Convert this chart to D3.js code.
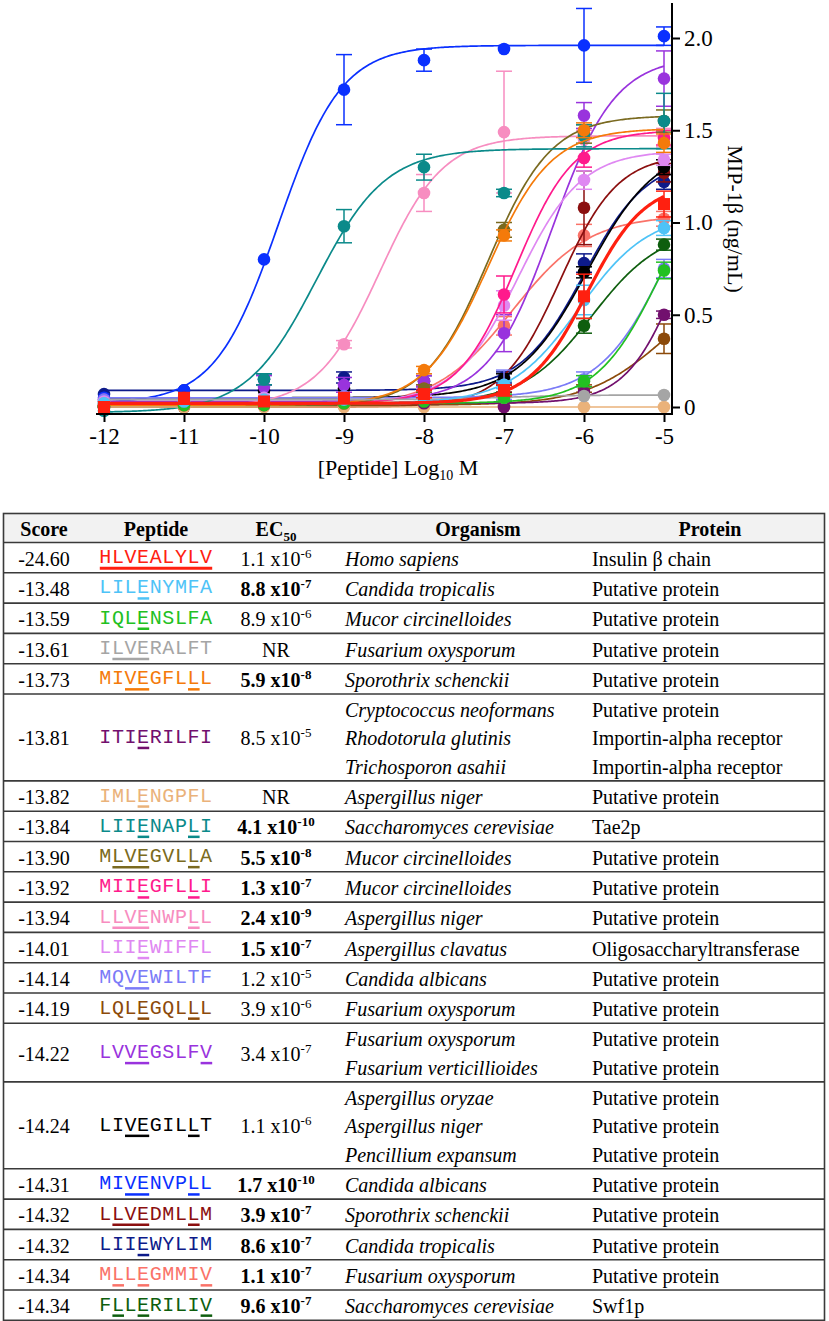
<!DOCTYPE html>
<html>
<head>
<meta charset="utf-8">
<script src="https://cdn.jsdelivr.net/npm/d3@7"></script>
<style>
  body { margin: 0; background: #fff; }
</style>
</head>
<body>
<div id="chart"></div>
<script>
// ---- chart data ----
const doses = [-12, -11, -10, -9, -8, -7, -6, -5];
const xTicks = [-12, -11, -10, -9, -8, -7, -6, -5];
const yTicks = [0, 0.5, 1.0, 1.5, 2.0];

const colors = ["#ff2010", "#4ec3f7", "#22c022", "#a5a5a5", "#f47a0a", "#72106e", "#eab27a",
  "#0b8a8a", "#7a6a20", "#ff1a8c", "#f78dc0", "#df88f2", "#7b7bf7", "#8c4a0a", "#9933dd",
  "#000000", "#0a30ff", "#8b0f0f", "#0d1a8a", "#fa7268", "#0e5e0e"];

// mean MIP-1b (ng/mL) at each dose, one row per peptide (table order)
const responses = [
  [0.00, 0.05, 0.03, 0.05, 0.07, 0.09, 0.60, 1.10],
  [0.02, 0.03, 0.04, 0.04, 0.05, 0.12, 0.58, 0.97],
  [0.00, 0.01, 0.01, 0.02, 0.03, 0.05, 0.14, 0.74],
  [0.02, 0.03, 0.03, 0.03, 0.04, 0.05, 0.06, 0.065],
  [0.01, 0.01, 0.02, 0.02, 0.20, 0.93, 1.50, 1.43],
  [0.00, 0.01, 0.01, 0.02, 0.02, 0.00, 0.08, 0.50],
  [0.00, 0.00, 0.00, 0.00, 0.00, 0.00, 0.00, 0.00],
  [-0.02, 0.01, 0.15, 0.98, 1.30, 1.16, 1.47, 1.55],
  [0.00, 0.01, 0.01, 0.02, 0.10, 0.96, 1.48, 1.55],
  [0.01, 0.02, 0.03, 0.03, 0.10, 0.61, 1.35, 1.46],
  [0.01, 0.02, 0.04, 0.34, 1.16, 1.49, 1.45, 1.46],
  [0.03, 0.04, 0.05, 0.05, 0.08, 0.55, 1.23, 1.34],
  [0.04, 0.04, 0.05, 0.06, 0.06, 0.12, 0.15, 0.75],
  [0.00, 0.00, 0.01, 0.01, 0.02, 0.03, 0.10, 0.37],
  [0.04, 0.05, 0.11, 0.12, 0.14, 0.40, 1.58, 1.78],
  [0.03, 0.05, 0.09, 0.10, 0.10, 0.15, 0.73, 1.30],
  [0.05, 0.09, 0.80, 1.72, 1.88, 1.94, 1.96, 2.01],
  [0.00, 0.00, 0.01, 0.02, 0.03, 0.10, 1.08, 1.27],
  [0.07, 0.09, 0.15, 0.16, 0.14, 0.16, 0.78, 1.22],
  [0.01, 0.02, 0.03, 0.03, 0.05, 0.44, 0.93, 1.02],
  [0.00, 0.01, 0.01, 0.01, 0.02, 0.06, 0.44, 0.88]
];

const errors = [
  [0.01, 0.01, 0.01, 0.01, 0.02, 0.03, 0.12, 0.07],
  [0.01, 0.01, 0.01, 0.01, 0.01, 0.02, 0.08, 0.04],
  [0.01, 0.01, 0.01, 0.01, 0.01, 0.02, 0.03, 0.045],
  [0.01, 0.01, 0.01, 0.01, 0.01, 0.01, 0.01, 0.01],
  [0.01, 0.01, 0.01, 0.01, 0.02, 0.03, 0.04, 0.05],
  [0.01, 0.01, 0.01, 0.01, 0.01, 0.01, 0.01, 0.02],
  [0.01, 0.01, 0.01, 0.01, 0.01, 0.01, 0.01, 0.01],
  [0.01, 0.01, 0.03, 0.09, 0.07, 0.02, 0.06, 0.15],
  [0.01, 0.01, 0.01, 0.01, 0.02, 0.04, 0.05, 0.06],
  [0.01, 0.01, 0.01, 0.01, 0.02, 0.10, 0.05, 0.04],
  [0.01, 0.01, 0.01, 0.02, 0.10, 0.33, 0.05, 0.05],
  [0.01, 0.01, 0.01, 0.01, 0.02, 0.08, 0.05, 0.03],
  [0.01, 0.01, 0.01, 0.01, 0.01, 0.08, 0.04, 0.05],
  [0.01, 0.01, 0.01, 0.01, 0.01, 0.01, 0.02, 0.08],
  [0.01, 0.01, 0.06, 0.04, 0.03, 0.10, 0.07, 0.15],
  [0.01, 0.01, 0.01, 0.01, 0.01, 0.03, 0.03, 0.04],
  [0.01, 0.01, 0.01, 0.19, 0.06, 0.01, 0.20, 0.05],
  [0.01, 0.01, 0.01, 0.01, 0.01, 0.02, 0.20, 0.05],
  [0.01, 0.01, 0.03, 0.03, 0.03, 0.03, 0.05, 0.04],
  [0.01, 0.01, 0.01, 0.01, 0.01, 0.05, 0.06, 0.04],
  [0.01, 0.01, 0.01, 0.01, 0.01, 0.02, 0.04, 0.03]
];

// fitted sigmoid parameters per peptide
const fitBottom = [0.02, 0.02, 0.02, 0.04, 0.01, 0.02, 0.0, -0.03, 0.0, 0.02, 0.0, 0.02, 0.05, 0.01, 0.03, 0.05, 0.02, 0.0, 0.09, 0.0, 0.02];
const fitTop = [1.22, 1.05, 1.40, 0.065, 1.51, 1.40, 0.0, 1.40, 1.58, 1.50, 1.47, 1.39, 1.60, 0.72, 1.90, 1.42, 1.96, 1.37, 1.35, 1.04, 0.97];
const fitLogEC = [-5.96, -6.06, -5.05, -7.0, -7.20, -4.80, -7.0, -9.35, -7.20, -6.85, -8.55, -6.82, -4.92, -5.0, -6.40, -5.96, -9.82, -6.30, -6.0, -6.90, -5.90];
const fitHill = [1.2, 1.0, 1.1, 1.0, 1.1, 1.3, 1.0, 1.0, 1.1, 1.2, 1.1, 1.1, 1.0, 0.9, 1.1, 1.0, 1.1, 1.2, 1.1, 0.9, 1.0];

// ---- table data ----
const scores = ["-24.60", "-13.48", "-13.59", "-13.61", "-13.73", "-13.81", "-13.82", "-13.84", "-13.90", "-13.92",
  "-13.94", "-14.01", "-14.14", "-14.19", "-14.22", "-14.24", "-14.31", "-14.32", "-14.32", "-14.34", "-14.34"];
const peptides = ["HLVEALYLV", "LILENYMFA", "IQLENSLFA", "ILVERALFT", "MIVEGFLLL", "ITIERILFI", "IMLENGPFL",
  "LIIENAPLI", "MLVEGVLLA", "MIIEGFLLI", "LLVENWPLL", "LIIEWIFFL", "MQVEWILTF", "LQLEGQLLL", "LVVEGSLFV",
  "LIVEGILLT", "MIVENVPLL", "LLVEDMLLM", "LIIEWYLIM", "MLLEGMMIV", "FLLERILIV"];
const underlined = [[0, 1, 2, 3, 4, 5, 6, 7, 8], [3], [3], [1, 2, 3], [2, 3, 7], [3], [3], [3, 7], [1, 2, 3, 7],
  [3, 7], [1, 2, 3, 7], [3], [2, 3], [3, 7], [2, 3, 8], [2, 3, 7], [2, 3, 7], [1, 2, 3, 7], [3], [1, 3, 8], [1, 3, 8]];
const ec50Mantissa = ["1.1", "8.8", "8.9", null, "5.9", "8.5", null, "4.1", "5.5", "1.3", "2.4", "1.5", "1.2",
  "3.9", "3.4", "1.1", "1.7", "3.9", "8.6", "1.1", "9.6"];
const ec50Exponent = ["-6", "-7", "-6", null, "-8", "-5", null, "-10", "-8", "-7", "-9", "-7", "-5",
  "-6", "-7", "-6", "-10", "-7", "-7", "-7", "-7"];
const ec50Bold = [false, true, false, false, true, false, false, true, true, true, true, true, false,
  false, false, false, true, true, true, true, true];
const organisms = [
  ["Homo sapiens"], ["Candida tropicalis"], ["Mucor circinelloides"], ["Fusarium oxysporum"],
  ["Sporothrix schenckii"], ["Cryptococcus neoformans", "Rhodotorula glutinis", "Trichosporon asahii"],
  ["Aspergillus niger"], ["Saccharomyces cerevisiae"], ["Mucor circinelloides"], ["Mucor circinelloides"],
  ["Aspergillus niger"], ["Aspergillus clavatus"], ["Candida albicans"], ["Fusarium oxysporum"],
  ["Fusarium oxysporum", "Fusarium verticillioides"], ["Aspergillus oryzae", "Aspergillus niger", "Pencillium expansum"],
  ["Candida albicans"], ["Sporothrix schenckii"], ["Candida tropicalis"], ["Fusarium oxysporum"],
  ["Saccharomyces cerevisiae"]
];
const proteins = [
  ["Insulin β chain"], ["Putative protein"], ["Putative protein"], ["Putative protein"], ["Putative protein"],
  ["Putative protein", "Importin-alpha receptor", "Importin-alpha receptor"], ["Putative protein"], ["Tae2p"],
  ["Putative protein"], ["Putative protein"], ["Putative protein"], ["Oligosaccharyltransferase"],
  ["Putative protein"], ["Putative protein"], ["Putative protein", "Putative protein"],
  ["Putative protein", "Putative protein", "Putative protein"], ["Putative protein"], ["Putative protein"],
  ["Putative protein"], ["Putative protein"], ["Swf1p"]
];

// ---- layout ----
const svgWidth = 829;
const svgHeight = 1321;
const serif = '"Liberation Serif", "Times New Roman", serif';
const mono = '"Liberation Mono", "Courier New", monospace';

const svg = d3.select("#chart")
  .append("svg")
  .attr("width", svgWidth)
  .attr("height", svgHeight)
  .attr("font-family", serif);

const xScale = d3.scaleLinear().domain([-12, -5]).range([104, 664]);
const yScale = d3.scaleLinear().domain([0, 2]).range([407, 38]);
const axisY = 414;
const axisX = 672;

const line = d3.line()
  .x(d => xScale(d[0]))
  .y(d => yScale(d[1]));

function logistic(i, x) {
  return fitBottom[i] + (fitTop[i] - fitBottom[i]) / (1 + Math.pow(10, (fitLogEC[i] - x) * fitHill[i]));
}

const plot = svg.append("g");
// reverse table order, insulin (red) drawn last, on top
const order = d3.range(peptides.length - 1, 0, -1).concat([0]);

order.forEach(i => {
  const g = plot.append("g");
  const col = colors[i];
  const curvePts = d3.range(-12, -4.999, 0.02).map(x => [x, logistic(i, x)]);

  g.append("path")
    .datum(curvePts)
    .attr("fill", "none")
    .attr("stroke", col)
    .attr("stroke-width", i === 0 ? 3.2 : 1.7)
    .attr("d", line);

  const pts = doses.map((d, k) => ({ x: d, y: responses[i][k], e: errors[i][k] }));

  const eb = g.selectAll(".err")
    .data(pts.filter(p => p.e >= 0.02))
    .enter()
    .append("g")
    .attr("stroke", col)
    .attr("stroke-width", 1.5);
  eb.append("line")
    .attr("x1", p => xScale(p.x)).attr("x2", p => xScale(p.x))
    .attr("y1", p => yScale(p.y - p.e)).attr("y2", p => yScale(p.y + p.e));
  eb.append("line")
    .attr("x1", p => xScale(p.x) - 8).attr("x2", p => xScale(p.x) + 8)
    .attr("y1", p => yScale(p.y + p.e)).attr("y2", p => yScale(p.y + p.e));
  eb.append("line")
    .attr("x1", p => xScale(p.x) - 8).attr("x2", p => xScale(p.x) + 8)
    .attr("y1", p => yScale(p.y - p.e)).attr("y2", p => yScale(p.y - p.e));

  if (i === 0) {
    g.selectAll(".pt")
      .data(pts)
      .enter()
      .append("rect")
      .attr("x", p => xScale(p.x) - 6)
      .attr("y", p => yScale(p.y) - 6)
      .attr("width", 12)
      .attr("height", 12)
      .attr("fill", col);
  } else {
    g.selectAll(".pt")
      .data(pts)
      .enter()
      .append("circle")
      .attr("cx", p => xScale(p.x))
      .attr("cy", p => yScale(p.y))
      .attr("r", 6.3)
      .attr("fill", col);
  }
});

// x axis
const gx = svg.append("g")
  .attr("transform", `translate(0,${axisY})`)
  .call(d3.axisBottom(xScale).tickValues(xTicks).tickSize(8).tickPadding(6).tickFormat(d => String(d)));
gx.attr("font-family", serif).attr("font-size", 23);
gx.select(".domain").remove();
gx.selectAll(".tick line").attr("stroke", "#000").attr("stroke-width", 2);
gx.selectAll(".tick text").attr("fill", "#000");
gx.append("line")
  .attr("x1", xScale(-12.1)).attr("x2", axisX + 1)
  .attr("y1", 0).attr("y2", 0)
  .attr("stroke", "#000").attr("stroke-width", 2);

// y axis (right side)
const gy = svg.append("g")
  .attr("transform", `translate(${axisX},0)`)
  .call(d3.axisRight(yScale).tickValues(yTicks).tickSize(8).tickPadding(4)
    .tickFormat(d => d === 0 ? "0" : d3.format(".1f")(d)));
gy.attr("font-family", serif).attr("font-size", 23);
gy.select(".domain").remove();
gy.selectAll(".tick line").attr("stroke", "#000").attr("stroke-width", 2);
gy.selectAll(".tick text").attr("fill", "#000");
gy.append("line")
  .attr("x1", 0).attr("x2", 0)
  .attr("y1", axisY + 1).attr("y2", yScale(2.19))
  .attr("stroke", "#000").attr("stroke-width", 2);

// axis titles
const xt = svg.append("text")
  .attr("x", 398)
  .attr("y", 475)
  .attr("text-anchor", "middle")
  .attr("font-size", 22);
xt.append("tspan").text("[Peptide] Log");
xt.append("tspan").attr("font-size", 14).attr("dy", 5).text("10");
xt.append("tspan").attr("dy", -5).text(" M");

svg.append("text")
  .attr("transform", "translate(728,219) rotate(90)")
  .attr("text-anchor", "middle")
  .attr("font-size", 22)
  .text("MIP-1β (ng/mL)");

// ---- table ----
const tLeft = 3.5, tRight = 824.5, tTop = 513.5, headerH = 29;
const rowBase = 30.3, lineH = 28.3;
const colScore = 44, colPep = 156, colEC = 276, colOrg = 345, colProt = 592;
const charW = 12.6;

const table = svg.append("g").attr("font-size", 20);

const rowH = organisms.map(o => rowBase + (o.length - 1) * lineH);
const rowTop = [];
rowH.reduce((acc, h, i) => { rowTop[i] = acc; return acc + h; }, tTop + headerH);
const tBottom = rowTop[rowTop.length - 1] + rowH[rowH.length - 1];

table.append("rect")
  .attr("x", tLeft).attr("y", tTop)
  .attr("width", tRight - tLeft).attr("height", headerH)
  .attr("fill", "#f2f2f2");

const hb = tTop + 22.5;
[["Score", colScore], ["Peptide", colPep], ["Organism", 478], ["Protein", 710]].forEach(([t, x]) => {
  table.append("text")
    .attr("x", x).attr("y", hb)
    .attr("text-anchor", "middle")
    .attr("font-weight", "bold")
    .text(t);
});
const ecHead = table.append("text")
  .attr("x", colEC).attr("y", hb)
  .attr("text-anchor", "middle")
  .attr("font-weight", "bold");
ecHead.append("tspan").text("EC");
ecHead.append("tspan").attr("font-size", 13).attr("dy", 5).text("50");

// horizontal rules
table.selectAll(".rule")
  .data([tTop + headerH].concat(rowTop.slice(1)))
  .enter()
  .append("line")
  .attr("x1", tLeft).attr("x2", tRight)
  .attr("y1", d => d).attr("y2", d => d)
  .attr("stroke", "#3a3a3a")
  .attr("stroke-width", 1.6);

table.append("rect")
  .attr("x", tLeft).attr("y", tTop)
  .attr("width", tRight - tLeft).attr("height", tBottom - tTop)
  .attr("fill", "none")
  .attr("stroke", "#3a3a3a")
  .attr("stroke-width", 1.6);

peptides.forEach((pep, i) => {
  const top = rowTop[i];
  const n = organisms[i].length;
  const mid = top + rowH[i] / 2 + 8;

  table.append("text")
    .attr("x", colScore).attr("y", mid)
    .attr("text-anchor", "middle")
    .text(scores[i]);

  // peptide sequence, monospace, with underlined residues
  const x0 = colPep - pep.length * charW / 2;
  table.append("text")
    .attr("x", pep.split("").map((c, k) => x0 + k * charW).join(" "))
    .attr("y", mid - 2.5)
    .attr("font-family", mono)
    .attr("font-size", 20)
    .attr("fill", colors[i])
    .text(pep);

  const runs = [];
  underlined[i].forEach(k => {
    const last = runs[runs.length - 1];
    if (last && last[1] === k - 1) last[1] = k;
    else runs.push([k, k]);
  });
  runs.forEach(([a, b]) => {
    table.append("line")
      .attr("x1", x0 + a * charW + 0.5)
      .attr("x2", x0 + (b + 1) * charW - 0.5)
      .attr("y1", mid + 2.5).attr("y2", mid + 2.5)
      .attr("stroke", colors[i])
      .attr("stroke-width", i === 0 ? 3 : 2.5);
  });

  const ec = table.append("text")
    .attr("x", colEC).attr("y", mid)
    .attr("text-anchor", "middle")
    .attr("font-weight", ec50Bold[i] ? "bold" : "normal");
  if (ec50Mantissa[i] === null) {
    ec.text("NR");
  } else {
    ec.append("tspan").text(ec50Mantissa[i] + " x10");
    ec.append("tspan").attr("font-size", 13).attr("dy", -8).text(ec50Exponent[i]);
  }

  organisms[i].forEach((o, k) => {
    const y = mid + (k - (n - 1) / 2) * lineH;
    table.append("text")
      .attr("x", colOrg).attr("y", y)
      .attr("font-style", "italic")
      .text(o);
    table.append("text")
      .attr("x", colProt).attr("y", y)
      .text(proteins[i][k]);
  });
});
</script>
</body>
</html>
